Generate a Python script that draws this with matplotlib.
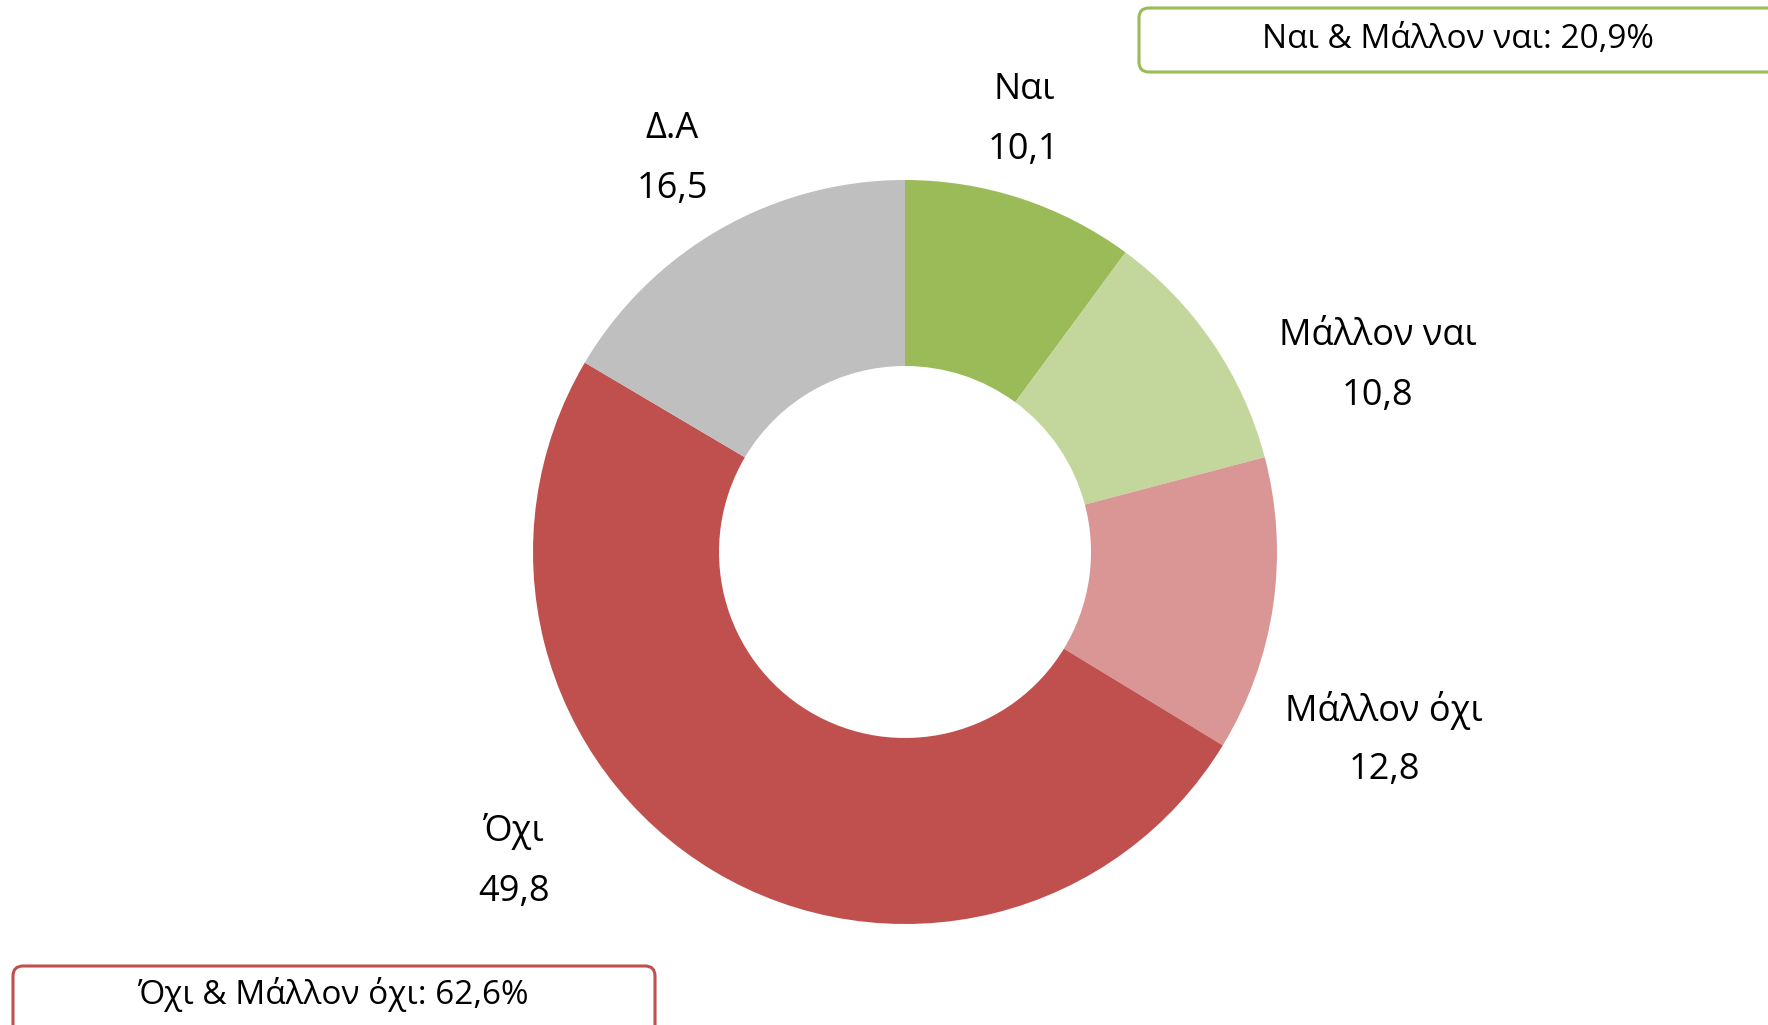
import matplotlib.pyplot as plt
from matplotlib.patches import FancyBboxPatch

# data
labels = ['Ναι', 'Μάλλον ναι', 'Μάλλον όχι', 'Όχι', 'Δ.Α']
values = [10.1, 10.8, 12.8, 49.8, 16.5]
colors = ['#9BBB59', '#C3D69B', '#D99694', '#C0504D', '#BFBFBF']
yes_total = 'Ναι & Μάλλον ναι: 20,9%'
no_total = 'Όχι & Μάλλον όχι: 62,6%'

W, H = 1768, 1025
plt.rcParams['font.family'] = ['Open Sans', 'DejaVu Sans']

fig = plt.figure(figsize=(W / 100, H / 100), dpi=100)
ax = fig.add_axes([0, 0, 1, 1])

# donut (pixel-like coords, y measured from bottom)
cx, cy, r = 905, H - 552, 372
ax.pie(values, colors=colors, startangle=90, counterclock=False,
       center=(cx, cy), radius=r, frame=True,
       wedgeprops=dict(width=r * 0.5, edgecolor='white', linewidth=0))
ax.set_xlim(0, W)
ax.set_ylim(0, H)
ax.set_aspect('equal')
ax.axis('off')

# label positions (pixel, from top) for name / value
label_pos = [(1024, 90), (1378, 336), (1384, 710), (514, 832), (672, 129)]
for name, v, (x, y) in zip(labels, values, label_pos):
    ax.text(x, H - y, name, ha='center', va='center', fontsize=26)
    ax.text(x, H - y - 60, f'{v:.1f}'.replace('.', ','), ha='center', va='center', fontsize=26)

# summary boxes
box1 = FancyBboxPatch((1139, H - 72), 700, 64, boxstyle='round,pad=0,rounding_size=10',
                      fc='white', ec='#9BBB59', lw=2.2, clip_on=False)
ax.add_patch(box1)
ax.text(1458, H - 40, yes_total, ha='center', va='center', fontsize=24)

box2 = FancyBboxPatch((13, H - 1060), 642, 94, boxstyle='round,pad=0,rounding_size=10',
                      fc='white', ec='#C0504D', lw=2.2, clip_on=False)
ax.add_patch(box2)
ax.text(333, H - 995, no_total, ha='center', va='center', fontsize=24)

fig.savefig('out.png', dpi=100)
